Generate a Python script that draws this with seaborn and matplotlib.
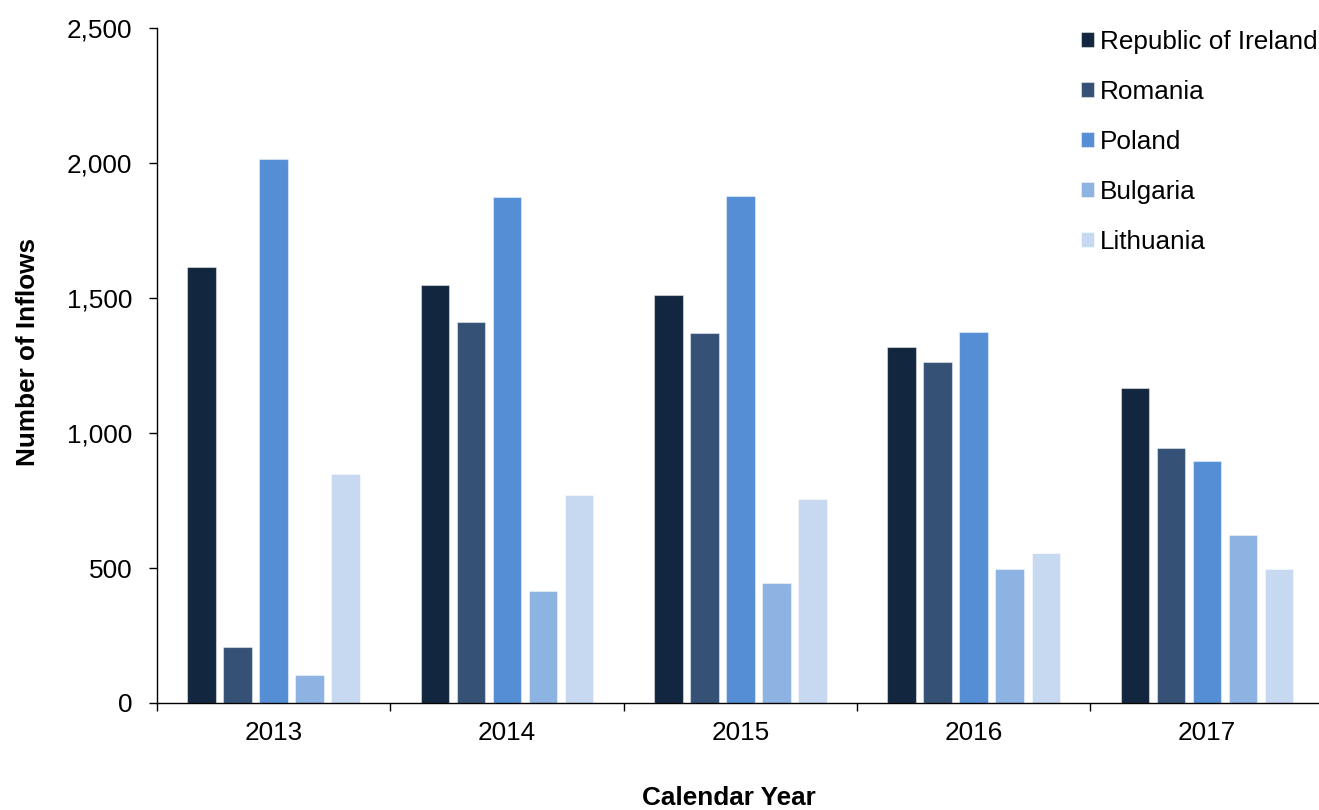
import numpy as np
import pandas as pd
import matplotlib
matplotlib.use("Agg")
import matplotlib.pyplot as plt
import matplotlib.patches as mpatches
from matplotlib.ticker import FuncFormatter
import seaborn as sns

# Inflows by calendar year and country of origin
years = ["2013", "2014", "2015", "2016", "2017"]
countries = ["Republic of Ireland", "Romania", "Poland", "Bulgaria", "Lithuania"]
ireland = [1614, 1550, 1511, 1320, 1165]
romania = [206, 1410, 1370, 1264, 943]
poland = [2015, 1873, 1877, 1373, 896]
bulgaria = [105, 415, 443, 496, 623]
lithuania = [850, 770, 754, 554, 496]
colors = ["#12263F", "#355276", "#558ED5", "#8DB3E2", "#C6D9F1"]

series = [ireland, romania, poland, bulgaria, lithuania]
df = pd.DataFrame(
    [(y, c, v) for c, vals in zip(countries, series) for y, v in zip(years, vals)],
    columns=["Year", "Country", "Inflows"],
)

sns.set_style("white")
plt.rcParams["font.family"] = ["Liberation Sans", "DejaVu Sans"]
plt.rcParams["text.color"] = "black"
plt.rcParams["axes.labelcolor"] = "black"
plt.rcParams["xtick.color"] = "black"
plt.rcParams["ytick.color"] = "black"
FS = 18.8

W, H = 1319, 810
fig = plt.figure(figsize=(W / 100, H / 100), dpi=100)
ax = fig.add_axes([157 / W, (H - 703) / H, 1166.7 / W, 675 / H])

sns.barplot(
    data=df, x="Year", y="Inflows", hue="Country",
    order=years, hue_order=countries, palette=colors,
    saturation=1, width=0.772, gap=0.21,
    edgecolor=(1, 1, 1, 0.45), linewidth=0.8,
    ax=ax, legend=False,
)

# Value axis
ax.set_ylim(0, 2500)
ax.set_yticks(np.arange(0, 2501, 500))
ax.yaxis.set_major_formatter(FuncFormatter(lambda v, _: f"{v:,.0f}"))
ax.tick_params(axis="y", which="major", direction="out", length=5.8, width=1,
               color="black", labelcolor="black", pad=12, labelsize=FS, left=True)

# Category axis: tick marks between years, labels centred on each year
ax.set_xlim(-0.5, 4.5)
ax.set_xticks(np.arange(-0.5, 5.0, 1.0), labels=[""] * 6)
ax.set_xticks(range(len(years)), minor=True)
ax.set_xticklabels(years, minor=True)
ax.tick_params(axis="x", which="major", direction="out", length=5.8, width=1,
               color="black", bottom=True)
ax.tick_params(axis="x", which="minor", length=0, pad=13, labelsize=FS,
               labelcolor="black")

for side in ("top", "right"):
    ax.spines[side].set_visible(False)
for side in ("left", "bottom"):
    ax.spines[side].set_color("black")
    ax.spines[side].set_linewidth(1.0)

ax.set_xlabel("Calendar Year", fontsize=FS, fontweight="bold", color="black")
ax.xaxis.set_label_coords((729 - 157) / 1166.7, (703 - 786) / 675)
ax.set_ylabel("Number of Inflows", fontsize=FS, fontweight="bold", color="black")
ax.yaxis.set_label_coords((40.5 - 157) / 1166.7, (703 - 352) / 675)

handles = [mpatches.Patch(facecolor=c, edgecolor=(1, 1, 1, 0.45), linewidth=0.8)
           for c in colors]
fig.legend(
    handles, countries, loc="upper left",
    bbox_to_anchor=(1080.7 / W, 1 - 30 / H), bbox_transform=fig.transFigure,
    frameon=False, fontsize=FS, handlelength=0.52, handleheight=0.52,
    handletextpad=0.22, labelspacing=0.995, borderpad=0, borderaxespad=0,
    labelcolor="black",
)

fig.savefig("out.png", dpi=100)
